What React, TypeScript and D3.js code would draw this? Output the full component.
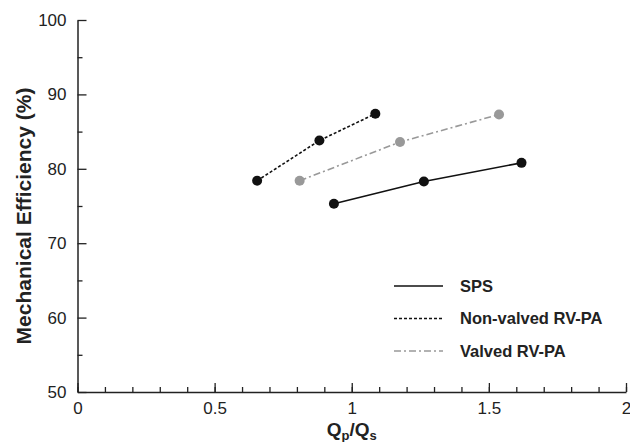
import React, {useEffect, useRef} from 'react';
import * as d3 from 'd3';

// Q_p/Q_s ratio vs mechanical efficiency, three circuits
const spsX = [0.935, 1.263, 1.619];
const spsY = [75.3, 78.3, 80.8];
const nonValvedX = [0.655, 0.882, 1.086];
const nonValvedY = [78.4, 83.8, 87.4];
const valvedX = [0.81, 1.176, 1.537];
const valvedY = [78.4, 83.6, 87.3];

const xMajor = [0, 0.5, 1, 1.5, 2];
const xMinor = d3.range(0, 2.01, 0.1);
const yMajor = [50, 60, 70, 80, 90, 100];
const yMinor = [55, 65, 75, 85, 95];

const seriesNames = ['SPS', 'Non-valved RV-PA', 'Valved RV-PA'];

const FONT = '"Liberation Sans", Arial, Helvetica, sans-serif';

export default function App() {
    const ref = useRef<SVGSVGElement | null>(null);

    useEffect(() => {
        const width = 630, height = 442;
        const svg = d3.select(ref.current);
        svg.selectAll('*').remove();

        const x = d3.scaleLinear().domain([0, 2]).range([77.5, 626]);
        const y = d3.scaleLinear().domain([50, 100]).range([392, 20]);

        const series = [
            {name: seriesNames[0], xs: spsX, ys: spsY, stroke: '#111', dash: null, fill: '#111'},
            {name: seriesNames[1], xs: nonValvedX, ys: nonValvedY, stroke: '#111', dash: '3,2', fill: '#111'},
            {name: seriesNames[2], xs: valvedX, ys: valvedY, stroke: '#999', dash: '7,3,2,3', fill: '#999'},
        ];

        // minor ticks
        svg.append('g')
            .attr('transform', `translate(0,${y(50)})`)
            .call(d3.axisBottom(x).tickValues(xMinor).tickSize(-5).tickSizeOuter(0).tickFormat(() => ''))
            .call(g => g.select('.domain').remove())
            .call(g => g.selectAll('line').attr('stroke', '#222').attr('stroke-width', 1.3));
        svg.append('g')
            .attr('transform', `translate(${x(0)},0)`)
            .call(d3.axisLeft(y).tickValues(yMinor).tickSize(-5).tickSizeOuter(0).tickFormat(() => ''))
            .call(g => g.select('.domain').remove())
            .call(g => g.selectAll('line').attr('stroke', '#222').attr('stroke-width', 1.3));

        // major axes
        svg.append('g')
            .attr('transform', `translate(0,${y(50)})`)
            .call(d3.axisBottom(x).tickValues(xMajor).tickSize(-9).tickSizeOuter(0).tickPadding(10)
                .tickFormat(d => d3.format('')(d as number)))
            .call(g => g.select('.domain').attr('stroke', '#222').attr('stroke-width', 1.5))
            .call(g => g.selectAll('line').attr('stroke', '#222').attr('stroke-width', 1.3))
            .call(g => g.selectAll('text').attr('font-family', FONT).attr('font-size', 17).attr('fill', '#222'));
        svg.append('g')
            .attr('transform', `translate(${x(0)},0)`)
            .call(d3.axisLeft(y).tickValues(yMajor).tickSize(-9).tickSizeOuter(0).tickPadding(11))
            .call(g => g.select('.domain').attr('stroke', '#222').attr('stroke-width', 1.5))
            .call(g => g.selectAll('line').attr('stroke', '#222').attr('stroke-width', 1.3))
            .call(g => g.selectAll('text').attr('font-family', FONT).attr('font-size', 17).attr('fill', '#222'));

        // axis titles
        const xt = svg.append('text')
            .attr('x', x(1))
            .attr('y', 436)
            .attr('text-anchor', 'middle')
            .attr('font-family', FONT)
            .attr('font-weight', 'bold')
            .attr('font-size', 19)
            .attr('fill', '#222');
        xt.append('tspan').text('Q');
        xt.append('tspan').attr('font-size', 13).attr('dy', 4).text('p');
        xt.append('tspan').attr('dy', -4).text('/Q');
        xt.append('tspan').attr('font-size', 13).attr('dy', 4).text('s');

        svg.append('text')
            .attr('transform', `translate(31,${(y(50) + y(100)) / 2 + 10}) rotate(-90)`)
            .attr('text-anchor', 'middle')
            .attr('font-family', FONT)
            .attr('font-weight', 'bold')
            .attr('font-size', 21)
            .attr('fill', '#222')
            .text('Mechanical Efficiency (%)');

        const line = d3.line<number>()
            .x(d => d[0])
            .y(d => d[1]);

        series.forEach(s => {
            const pts = s.xs.map((v, i) => [x(v), y(s.ys[i])]);
            svg.append('path')
                .attr('d', line(pts as any))
                .attr('fill', 'none')
                .attr('stroke', s.stroke)
                .attr('stroke-width', 1.6)
                .attr('stroke-dasharray', s.dash);
            svg.append('g')
                .selectAll('circle')
                .data(pts)
                .enter().append('circle')
                .attr('cx', d => d[0])
                .attr('cy', d => d[1])
                .attr('r', 5)
                .attr('fill', s.fill);
        });

        // legend
        series.forEach((s, i) => {
            const ly = 286 + i * 32.5;
            svg.append('line')
                .attr('x1', 394).attr('x2', 443)
                .attr('y1', ly).attr('y2', ly)
                .attr('stroke', s.stroke)
                .attr('stroke-width', 1.6)
                .attr('stroke-dasharray', s.dash);
            svg.append('text')
                .attr('x', 460)
                .attr('y', ly)
                .attr('dy', '0.35em')
                .attr('font-family', FONT)
                .attr('font-weight', 'bold')
                .attr('font-size', 16.5)
                .attr('fill', '#222')
                .text(s.name);
        });

        svg.attr('width', width).attr('height', height);
    }, []);

    return (
        <svg xmlns="http://www.w3.org/2000/svg" ref={ref} width={630} height={442}
             style={{position: 'absolute', left: 0, top: 0, background: '#fff'}}/>
    );
}
